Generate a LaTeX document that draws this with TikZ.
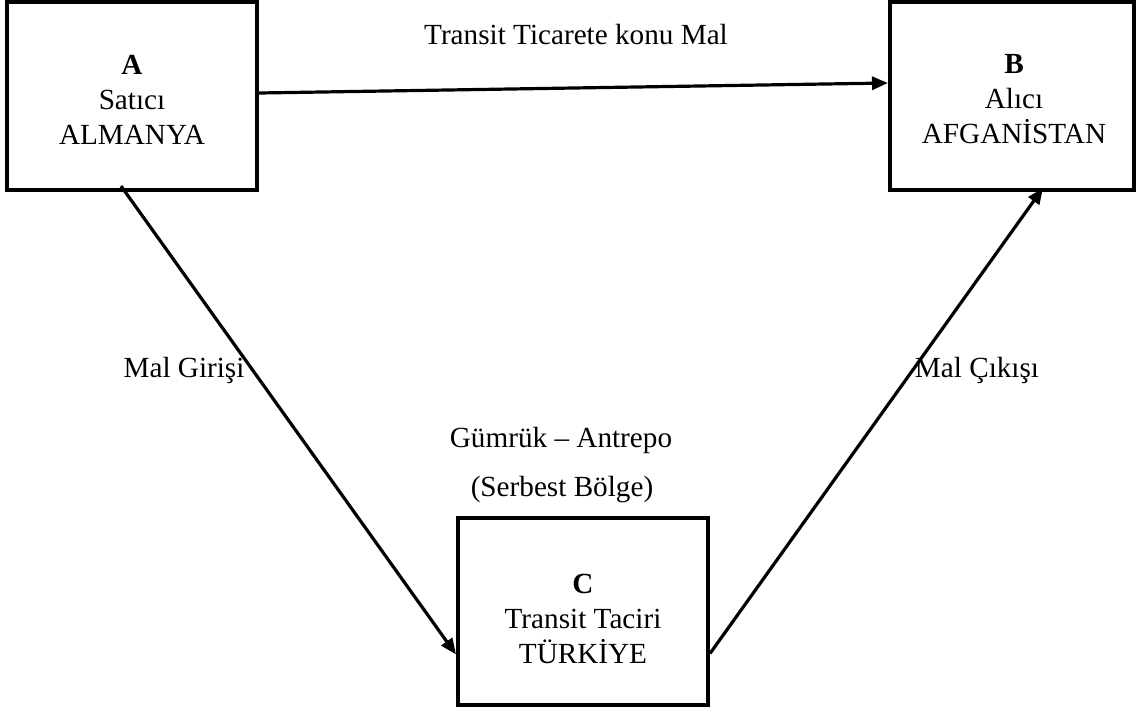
\documentclass[tikz,border=0pt]{standalone}
\usepackage{fontspec}
\setmainfont{Liberation Serif}
\usetikzlibrary{arrows.meta}
\begin{document}
\begin{tikzpicture}[x=0.5pt,y=-0.5pt,
  box/.style={draw,line width=2pt,inner sep=0pt},
  boxtext/.style={align=center,font=\fontsize{14.6}{17.5}\selectfont,inner sep=0pt},
  lbl/.style={font=\fontsize{14.6}{15}\selectfont,inner sep=0pt},
  arr/.style={line width=1.6pt,-{Triangle[length=8pt,width=6.5pt]}}]
\useasboundingbox (0,0) rectangle (1136,713);
\node[box,minimum width=125pt,minimum height=94pt] (A) at (132,96) {};
\node[box,minimum width=122pt,minimum height=94pt] (B) at (1012,96) {};
\node[box,minimum width=125pt,minimum height=93.5pt] (C) at (583,611.5) {};
\node[boxtext] (At) at (132,100) {\textbf{A}\\Satıcı\\ALMANYA};
\node[boxtext] (Bt) at (1014,99) {\textbf{B}\\Alıcı\\AFGANİSTAN};
\node[boxtext] (Ct) at (583,619) {\textbf{C}\\Transit Taciri\\TÜRKİYE};
\node[lbl] (t1) at (576,35) {Transit Ticarete konu Mal};
\node[lbl] (t2) at (184,370) {Mal Girişi};
\node[lbl] (t3) at (977,370) {Mal Çıkışı};
\node[lbl] (t4) at (561,440) {Gümrük – Antrepo};
\node[lbl] (t5) at (562,490) {(Serbest Bölge)};
\draw[arr] ([yshift=1.5pt]A.east) -- ([yshift=6.5pt]B.west);
\draw[arr] ([xshift=-5.5pt,yshift=3pt]A.south) -- ([yshift=-21.5pt]C.west);
\draw[arr] ([yshift=-21pt]C.east) -- ([xshift=15.5pt,yshift=2pt]B.south);
\end{tikzpicture}
\end{document}
